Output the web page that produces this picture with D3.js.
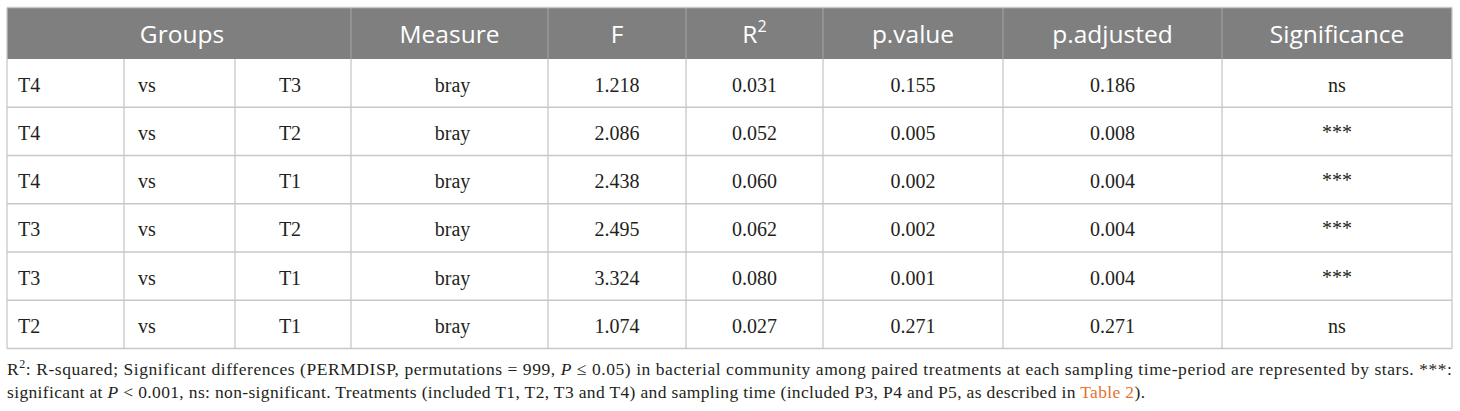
<!DOCTYPE html>
<html lang="en">
<head>
    <meta charset="UTF-8">
    <title>PERMDISP pairwise table</title>
    <script src="https://d3js.org/d3.v7.min.js"></script>
    <style>
        body { margin: 0; padding: 0; background: #fff; }
        svg { display: block; }
        .head { font-family: "Open Sans", sans-serif; font-size: 24.5px; fill: #fff; }
        .cell { font-family: "Liberation Serif", serif; font-size: 20px; fill: #231f20; }
        .note { font-family: "Liberation Serif", serif; font-size: 17.5px; fill: #231f20; }
    </style>
</head>
<body>
<svg width="1460" height="411"></svg>
<script>
    // table values
    const groupA = ["T4", "T4", "T4", "T3", "T3", "T2"];
    const groupB = ["T3", "T2", "T1", "T2", "T1", "T1"];
    const measure = ["bray", "bray", "bray", "bray", "bray", "bray"];
    const fValues = [1.218, 2.086, 2.438, 2.495, 3.324, 1.074];
    const r2Values = [0.031, 0.052, 0.060, 0.062, 0.080, 0.027];
    const pValues = [0.155, 0.005, 0.002, 0.002, 0.001, 0.271];
    const pAdjusted = [0.186, 0.008, 0.004, 0.004, 0.004, 0.271];
    const significance = ["ns", "***", "***", "***", "***", "ns"];
    const headers = ["Measure", "F", "R2", "p.value", "p.adjusted", "Significance"];

    // layout
    const colEdges = [7, 124, 235, 351, 548, 686, 823, 1003, 1222, 1452];
    const headTop = 7.5, headBottom = 59, rowsBottom = 348.5;

    const svg = d3.select("svg");
    const rows = d3.range(groupA.length);

    const y = d3.scaleBand()
        .domain(rows)
        .range([headBottom, rowsBottom]);

    const colMid = i => (colEdges[i] + colEdges[i + 1]) / 2;
    const tableWidth = colEdges[colEdges.length - 1] - colEdges[0];

    // header background
    svg.append("rect")
        .attr("x", colEdges[0])
        .attr("y", headTop)
        .attr("width", tableWidth)
        .attr("height", headBottom - headTop)
        .attr("fill", "#7f7f7f");

    // header separators (Groups spans the first three columns)
    svg.selectAll("line.hsep")
        .data(colEdges.slice(3, -1))
        .enter()
        .append("line")
        .attr("x1", d => d).attr("x2", d => d)
        .attr("y1", headTop).attr("y2", headBottom)
        .attr("stroke", "#a6a6a6")
        .attr("stroke-width", 1);

    svg.append("text")
        .attr("class", "head")
        .attr("x", (colEdges[0] + colEdges[3]) / 2 + 3)
        .attr("y", 43)
        .attr("text-anchor", "middle")
        .text("Groups");

    headers.forEach((h, i) => {
        const t = svg.append("text")
            .attr("class", "head")
            .attr("x", colMid(i + 3))
            .attr("y", 43)
            .attr("text-anchor", "middle");
        if (h === "R2") {
            t.append("tspan").text("R");
            t.append("tspan").attr("dy", -11).attr("font-size", 16).text("2");
        } else {
            t.text(h);
        }
    });

    // body grid
    const gridColor = "#c8c8c8";
    svg.selectAll("line.rowline")
        .data(rows.map(r => y(r) + y.bandwidth()))
        .enter()
        .append("line")
        .attr("x1", colEdges[0]).attr("x2", colEdges[colEdges.length - 1])
        .attr("y1", d => d).attr("y2", d => d)
        .attr("stroke", gridColor)
        .attr("stroke-width", 1.3);

    svg.selectAll("line.colline")
        .data(colEdges)
        .enter()
        .append("line")
        .attr("x1", d => d).attr("x2", d => d)
        .attr("y1", (d, i) => (i === 0 || i === colEdges.length - 1) ? headTop : headBottom)
        .attr("y2", rowsBottom)
        .attr("stroke", gridColor)
        .attr("stroke-width", 1.3);

    svg.append("line")
        .attr("x1", colEdges[0]).attr("x2", colEdges[colEdges.length - 1])
        .attr("y1", headTop).attr("y2", headTop)
        .attr("stroke", gridColor)
        .attr("stroke-width", 1.3);

    // cell text
    const columns = [
        { values: groupA, x: colEdges[0] + 11, anchor: "start" },
        { values: groupB.map(() => "vs"), x: colEdges[1] + 14, anchor: "start" },
        { values: groupB, x: colMid(2) - 3, anchor: "middle" },
        { values: measure, x: colMid(3) + 3, anchor: "middle" },
        { values: fValues.map(d3.format(".3f")), x: colMid(4), anchor: "middle" },
        { values: r2Values.map(d3.format(".3f")), x: colMid(5), anchor: "middle" },
        { values: pValues.map(d3.format(".3f")), x: colMid(6), anchor: "middle" },
        { values: pAdjusted.map(d3.format(".3f")), x: colMid(7), anchor: "middle" },
        { values: significance, x: colMid(8), anchor: "middle" }
    ];

    columns.forEach(col => {
        svg.selectAll(null)
            .data(col.values)
            .enter()
            .append("text")
            .attr("class", "cell")
            .attr("x", col.x)
            .attr("y", (d, i) => y(i) + y.bandwidth() / 2 + 8.5)
            .attr("text-anchor", col.anchor)
            .attr("font-size", d => d === "***" ? 15 : null)
            .attr("dy", d => d === "***" ? -1 : null)
            .text(d => d);
    });

    // footnote, justified to the table width like the source
    const line1 = svg.append("text")
        .attr("class", "note")
        .attr("x", colEdges[0])
        .attr("y", 375)
        .attr("textLength", tableWidth)
        .attr("lengthAdjust", "spacing");
    line1.append("tspan").text("R");
    line1.append("tspan").attr("dy", -7).attr("font-size", 12).text("2");
    line1.append("tspan").attr("dy", 7).text(": R-squared; Significant differences (PERMDISP, permutations = 999, ");
    line1.append("tspan").attr("font-style", "italic").text("P");
    line1.append("tspan").text(" \u2264 0.05) in bacterial community among paired treatments at each sampling time-period are represented by stars. ***:");

    const line2 = svg.append("text")
        .attr("class", "note")
        .attr("x", colEdges[0])
        .attr("y", 398)
        .attr("textLength", 1138)
        .attr("lengthAdjust", "spacing");
    line2.append("tspan").text("significant at ");
    line2.append("tspan").attr("font-style", "italic").text("P");
    line2.append("tspan").text(" < 0.001, ns: non-significant. Treatments (included T1, T2, T3 and T4) and sampling time (included P3, P4 and P5, as described in ");
    line2.append("tspan").attr("fill", "#e8702a").text("Table 2");
    line2.append("tspan").text(").");
</script>
</body>
</html>
